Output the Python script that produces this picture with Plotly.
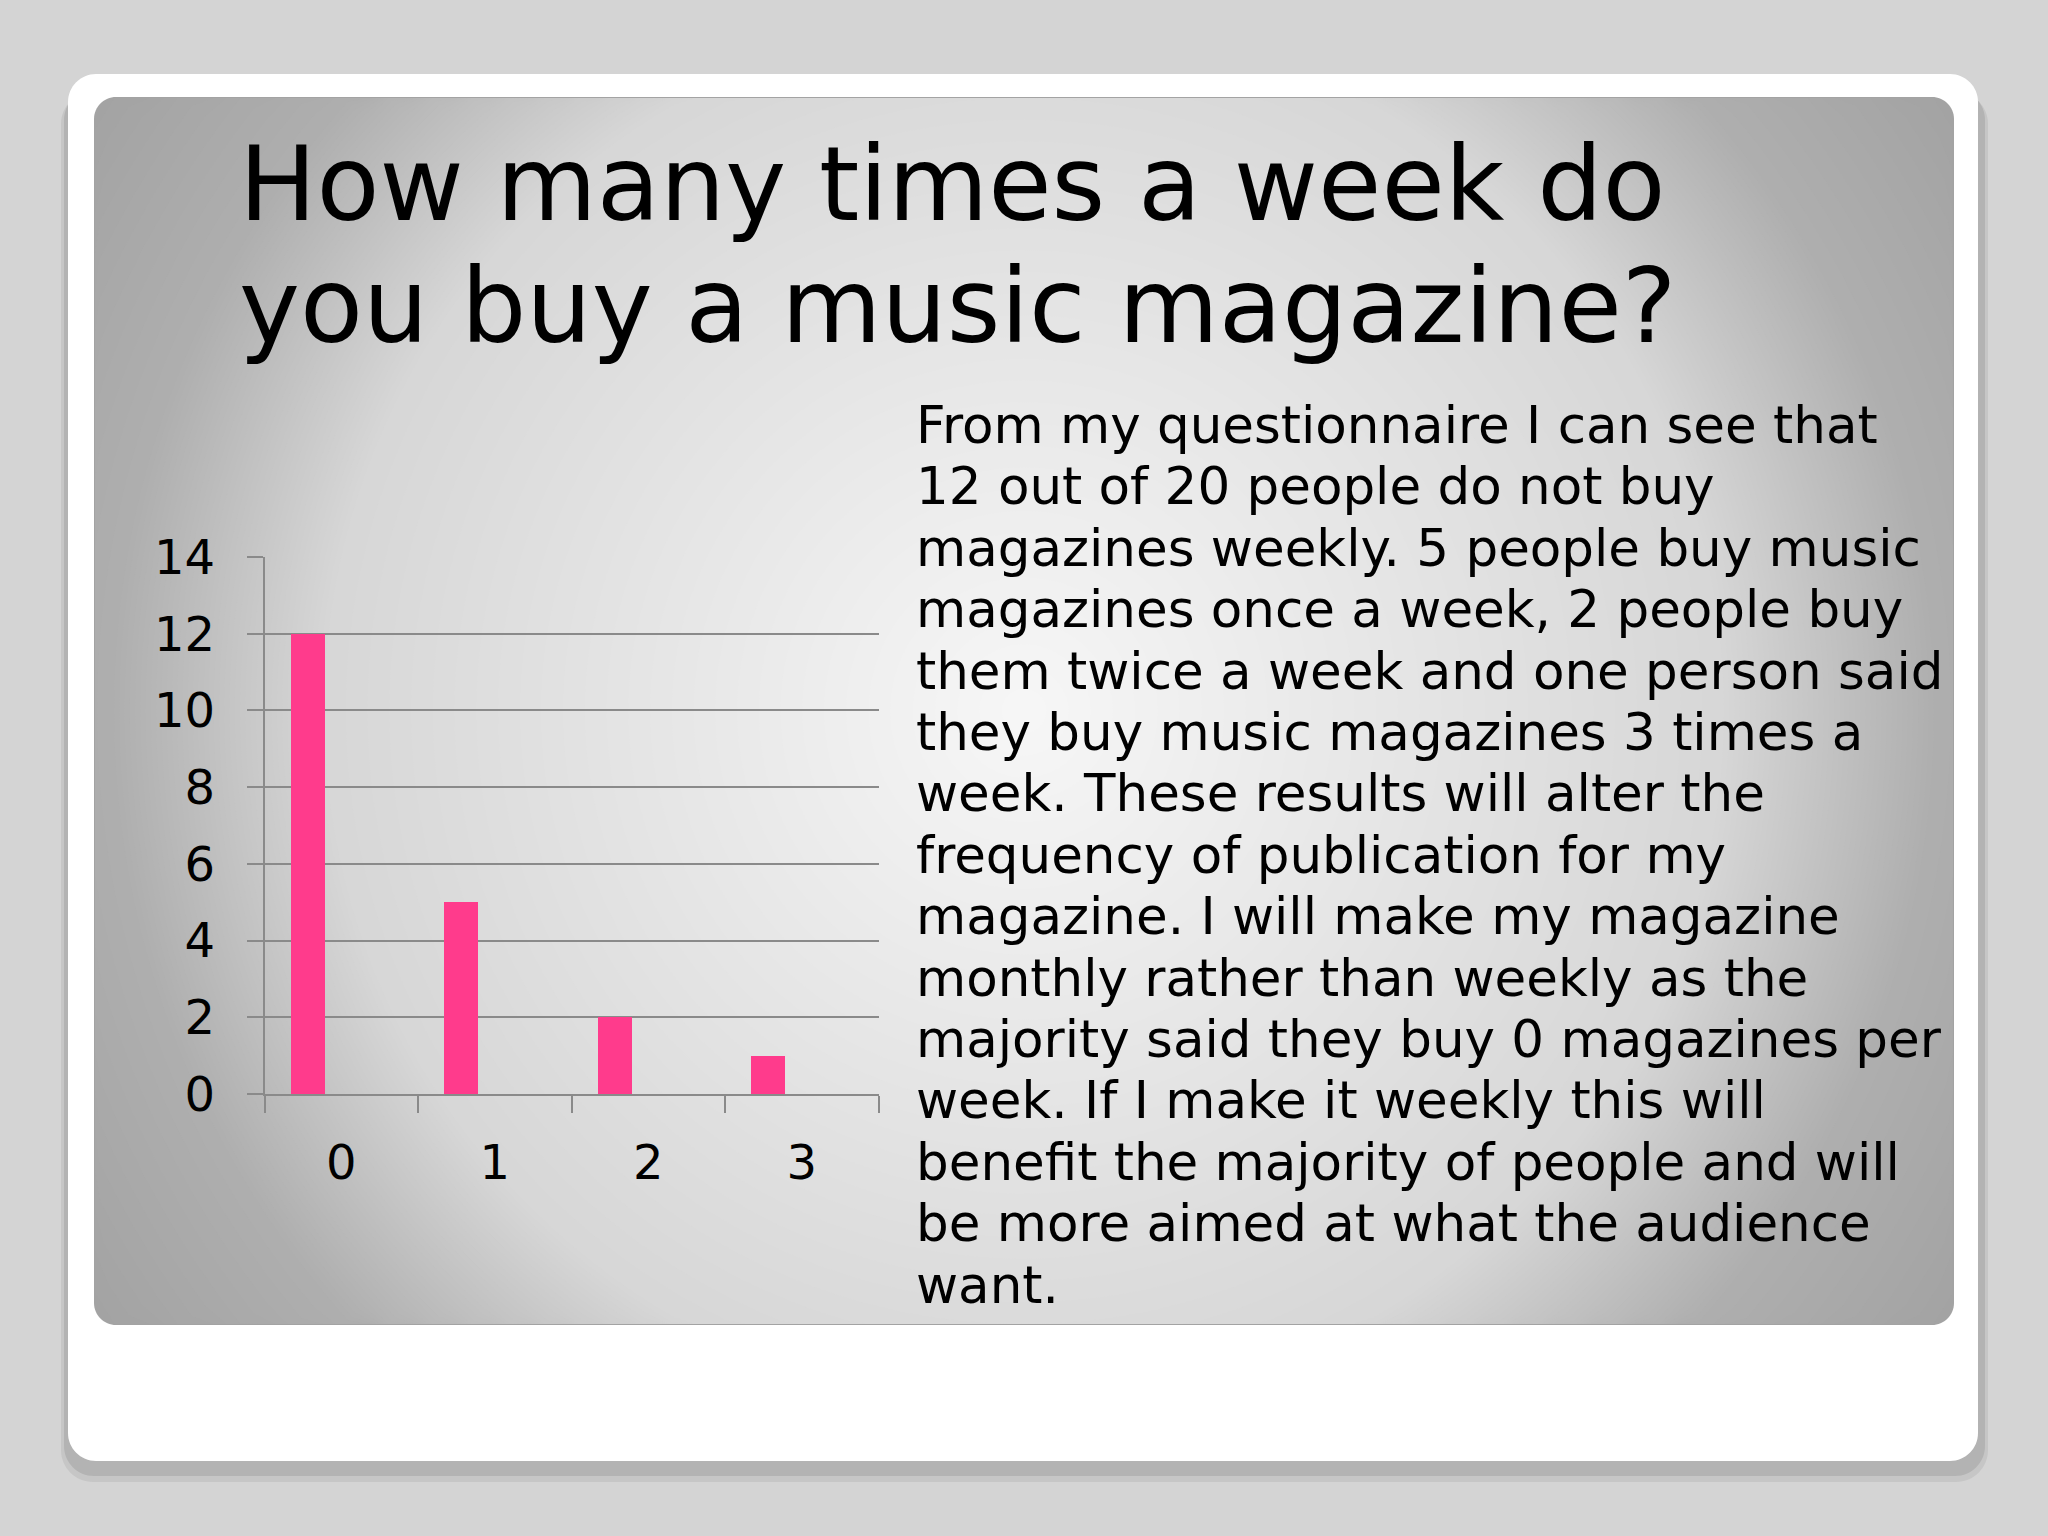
import math
import plotly.graph_objects as go

# ---------------- data ----------------
categories = ["0", "1", "2", "3"]
values = [12, 5, 2, 1]
y_tick_values = [0, 2, 4, 6, 8, 10, 12, 14]
title_lines = ["How many times a week do", "you buy a music magazine?"]
body_lines = [
    "From my questionnaire I can see that",
    "12 out of 20 people do not buy",
    "magazines weekly. 5 people buy music",
    "magazines once a week, 2 people buy",
    "them twice a week and one person said",
    "they buy music magazines 3 times a",
    "week. These results will alter the",
    "frequency of publication for my",
    "magazine. I will make my magazine",
    "monthly rather than weekly as the",
    "majority said they buy 0 magazines per",
    "week. If I make it weekly this will",
    "benefit the majority of people and will",
    "be more aimed at what the audience",
    "want.",
]

# ---------------- geometry helpers (pixels -> paper) ----------------
W, H = 2048, 1536


def px(x):
    return x / W


def py(y):
    return 1 - y / H


def rrect_path(x0, y0, x1, y1, r):
    k = 0.5523 * r
    p = []
    p.append(f"M{px(x0 + r)},{py(y0)}")
    p.append(f"L{px(x1 - r)},{py(y0)}")
    p.append(f"C{px(x1 - r + k)},{py(y0)} {px(x1)},{py(y0 + r - k)} {px(x1)},{py(y0 + r)}")
    p.append(f"L{px(x1)},{py(y1 - r)}")
    p.append(f"C{px(x1)},{py(y1 - r + k)} {px(x1 - r + k)},{py(y1)} {px(x1 - r)},{py(y1)}")
    p.append(f"L{px(x0 + r)},{py(y1)}")
    p.append(f"C{px(x0 + r - k)},{py(y1)} {px(x0)},{py(y1 - r + k)} {px(x0)},{py(y1 - r)}")
    p.append(f"L{px(x0)},{py(y0 + r)}")
    p.append(f"C{px(x0)},{py(y0 + r - k)} {px(x0 + r - k)},{py(y0)} {px(x0 + r)},{py(y0)}")
    p.append("Z")
    return " ".join(p)


def gray(v):
    v = int(round(v))
    return f"rgb({v},{v},{v})"


shapes = []
# card shadow
shapes.append(dict(type="path", xref="paper", yref="paper", layer="below",
                   path=rrect_path(61, 92, 1988, 1482, 32), fillcolor="#c6c6c6", line_width=0))
shapes.append(dict(type="path", xref="paper", yref="paper", layer="below",
                   path=rrect_path(64, 90, 1985, 1476, 30), fillcolor="#b3b3b3", line_width=0))
# white card
shapes.append(dict(type="path", xref="paper", yref="paper", layer="below",
                   path=rrect_path(68, 74, 1978, 1461, 28), fillcolor="#ffffff", line_width=0))

# gradient panel (radial, from centre)
PX0, PY0, PX1, PY1 = 94, 97, 1954, 1325
CX, CY = (PX0 + PX1) / 2, (PY0 + PY1) / 2
stops = [(0, 247), (200, 238), (700, 215), (910, 175), (1114, 163)]


def radius_for(v):
    for (d0, v0), (d1, v1) in zip(stops[:-1], stops[1:]):
        if v1 <= v <= v0:
            return d0 + (v0 - v) / (v0 - v1) * (d1 - d0)
    return 0


shapes.append(dict(type="path", xref="paper", yref="paper", layer="below",
                   path=rrect_path(PX0, PY0, PX1, PY1, 22), fillcolor=gray(163), line_width=0))
for v in range(164, 248):
    r = radius_for(v)
    if r <= 0:
        continue
    pts = []
    n = 180
    for i in range(n):
        a = 2 * math.pi * i / n
        x = min(max(CX + r * math.cos(a), PX0 + 1), PX1 - 1)
        y = min(max(CY + r * math.sin(a), PY0 + 1), PY1 - 1)
        pts.append(f"{px(x):.5f},{py(y):.5f}")
    path = "M" + " L".join(pts) + " Z"
    shapes.append(dict(type="path", xref="paper", yref="paper", layer="below",
                       path=path, fillcolor=gray(v), line_width=0))

# ---------------- chart ----------------
fig = go.Figure()
fig.add_trace(go.Bar(
    x=categories, y=values,
    marker=dict(color="#FF3B8C", line=dict(width=0)),
    width=2 / 9, offset=-1 / 3,
    showlegend=False, hoverinfo="skip",
))

axis_gray = "#8a8a8a"
fig.update_layout(
    width=W, height=H,
    autosize=False,
    margin=dict(l=0, r=0, t=0, b=0, pad=0),
    paper_bgcolor="#d4d4d4",
    plot_bgcolor="rgba(0,0,0,0)",
    shapes=shapes,
    bargap=0,
    xaxis=dict(
        type="category",
        automargin=False,
        domain=[px(264.5), px(878.5)],
        range=[-0.5, 3.5],
        showline=True, linecolor=axis_gray, linewidth=1.5,
        ticks="outside", tickson="boundaries", ticklen=17, tickwidth=1.5, tickcolor=axis_gray,
        showgrid=False,
        tickfont=dict(family="DejaVu Sans", size=48, color="#000000"),
        ticklabelstandoff=26,
        fixedrange=True,
    ),
    yaxis=dict(
        automargin=False,
        domain=[py(1094), py(557)],
        range=[0, 14],
        tickvals=y_tick_values,
        showline=True, linecolor=axis_gray, linewidth=1.5,
        ticks="outside", ticklen=16, tickwidth=1.5, tickcolor=axis_gray,
        showgrid=True, gridcolor=axis_gray, gridwidth=1.5,
        zeroline=False,
        tickfont=dict(family="DejaVu Sans", size=48, color="#000000"),
        ticklabelstandoff=22,
        fixedrange=True,
    ),
)

annotations = []
title_size = 103
for i, line in enumerate(title_lines):
    baseline = 220 + i * 122
    annotations.append(dict(
        text=line, xref="paper", yref="paper", x=px(237), y=py(baseline - 0.346 * title_size),
        xanchor="left", yanchor="middle", showarrow=False,
        font=dict(family="DejaVu Sans", size=title_size, color="#000000"),
    ))
body_size = 51.5
for i, line in enumerate(body_lines):
    baseline = 442.8 + i * 61.4
    annotations.append(dict(
        text=line, xref="paper", yref="paper", x=px(913.5), y=py(baseline - 0.346 * body_size),
        xanchor="left", yanchor="middle", showarrow=False,
        font=dict(family="DejaVu Sans", size=body_size, color="#000000"),
    ))
fig.update_layout(annotations=annotations)

fig.write_html("out.html",
               config={"displayModeBar": False},
               post_script="document.body.style.margin='0px';document.body.style.overflow='hidden';")
